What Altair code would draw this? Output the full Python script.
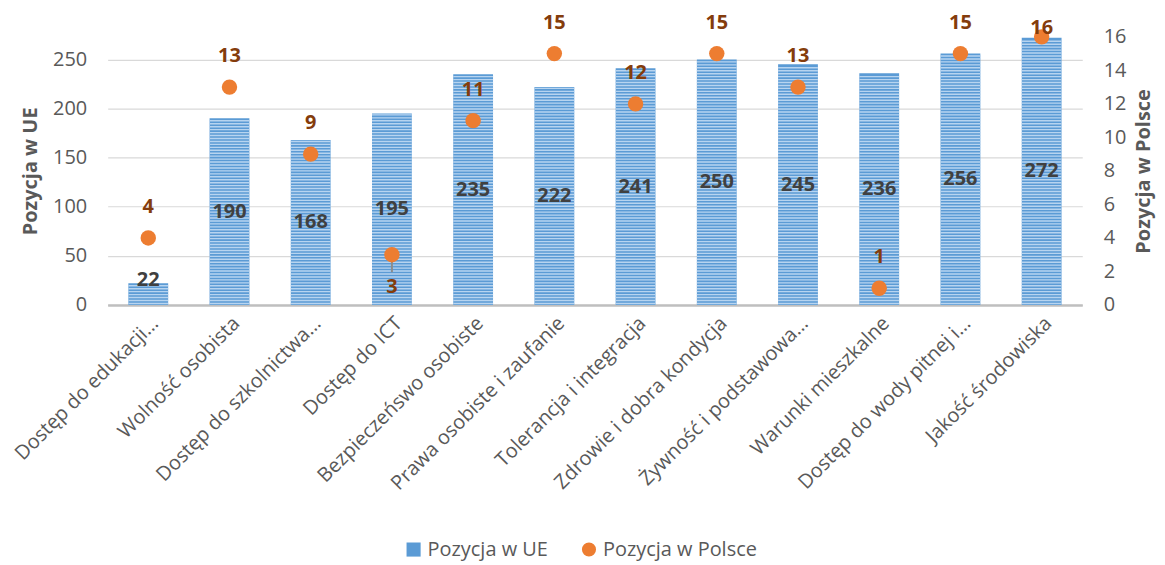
import altair as alt
import pandas as pd
import numpy as np

categories = [
    "Dostęp do edukacji…", "Wolność osobista", "Dostęp do szkolnictwa…",
    "Dostęp do ICT", "Bezpieczeńswo osobiste", "Prawa osobiste i zaufanie",
    "Tolerancja i integracja", "Zdrowie i dobra kondycja", "Żywność i podstawowa…",
    "Warunki mieszkalne", "Dostęp do wody pitnej i…", "Jakość środowiska",
]
pos_ue = [22, 190, 168, 195, 235, 222, 241, 250, 245, 236, 256, 272]
pos_pl = [4, 13, 9, 3, 11, 15, 12, 15, 13, 1, 15, 16]

S_UE = "Pozycja w UE"
S_PL = "Pozycja w Polsce"

df = pd.DataFrame({"cat": categories, "ue": pos_ue, "pl": pos_pl,
                   "s_ue": S_UE, "s_pl": S_PL})

# horizontal stripe texture inside the bars
rows = []
for c, v in zip(categories, pos_ue):
    for lvl in np.arange(1.5, v - 0.5, 3.0):
        rows.append({"cat": c, "lvl": float(lvl)})
stripes = pd.DataFrame(rows)

FONT = "Open Sans"
GREY = "#595959"

xenc = alt.X("cat:N", sort=categories, title=None,
             scale=alt.Scale(paddingInner=0.51, paddingOuter=0.255),
             axis=alt.Axis(labelAngle=315, labelFontSize=20, labelColor=GREY,
                           labelFont=FONT, ticks=False, domainColor="#BFBFBF",
                           domainWidth=2.5, labelPadding=8, labelLimit=320))

yscale_l = alt.Scale(domain=[0, 273], nice=False)
yaxis_l = alt.Axis(values=[0, 50, 100, 150, 200, 250], title=S_UE,
                   titleFontSize=20, titleFont=FONT, titleColor=GREY,
                   titleFontWeight="bold", titlePadding=12,
                   labelFontSize=20, labelColor=GREY, labelFont=FONT,
                   labelPadding=21, ticks=False, domain=False,
                   gridColor="#D9D9D9", gridWidth=1.2)

yscale_r = alt.Scale(domain=[0, 16], nice=False)
yaxis_r = alt.Axis(values=list(range(0, 17, 2)), title=S_PL, orient="right",
                   titleFontSize=20, titleFont=FONT, titleColor=GREY,
                   titleFontWeight="bold", titleAngle=270, titleBaseline="top",
                   titlePadding=8,
                   labelFontSize=20, labelColor=GREY, labelFont=FONT,
                   labelPadding=21, ticks=False, domain=False, grid=False)

legend = alt.Legend(title=None, orient="none", direction="horizontal",
                    legendX=297, legendY=504,
                    labelFontSize=20, labelFont=FONT, labelColor=GREY,
                    symbolSize=200, columnPadding=30, symbolOpacity=1)
color = alt.Color("series:N",
                  scale=alt.Scale(domain=[S_UE, S_PL], range=["#5B9BD5", "#ED7D31"]),
                  legend=legend)
shape = alt.Shape("series:N",
                  scale=alt.Scale(domain=[S_UE, S_PL], range=["square", "circle"]),
                  legend=legend)

base = alt.Chart(df)

bars = base.mark_bar().transform_calculate(series="datum.s_ue").encode(
    x=xenc,
    y=alt.Y("ue:Q", scale=yscale_l, axis=yaxis_l),
    color=color,
)

stripe_layer = alt.Chart(stripes).mark_tick(color="#B7D4F0", thickness=1.4, size=40,
                                            opacity=1).encode(
    x=alt.X("cat:N", sort=categories),
    y=alt.Y("lvl:Q", scale=yscale_l, axis=yaxis_l),
)

bar_labels = base.transform_calculate(
    ly="max(datum.ue / 2, 25)"
).mark_text(font=FONT, fontSize=20, fontWeight="bold", color="#404040",
            baseline="middle").encode(
    x=alt.X("cat:N", sort=categories),
    y=alt.Y("ly:Q", scale=yscale_l, axis=yaxis_l),
    text="ue:Q",
)

left = alt.layer(bars, stripe_layer, bar_labels)

leader = base.transform_filter("datum.pl == 3").transform_calculate(
    y2v="datum.pl - 1.05"
).mark_rule(color="#8C8C8C", strokeWidth=2).encode(
    x=alt.X("cat:N", sort=categories),
    y=alt.Y("pl:Q", scale=yscale_r, axis=yaxis_r),
    y2="y2v:Q",
)

points = base.transform_calculate(series="datum.s_pl").mark_point(
    filled=True, size=240, opacity=1).encode(
    x=alt.X("cat:N", sort=categories),
    y=alt.Y("pl:Q", scale=yscale_r, axis=yaxis_r),
    color=color,
    shape=shape,
)

pt_labels = base.transform_calculate(
    ly="datum.pl == 3 ? datum.pl - 1.95 : (datum.pl >= 16 ? datum.pl + 0.5 : datum.pl + 1.85)"
).mark_text(font=FONT, fontSize=20, fontWeight="bold", color="#843C0C",
            baseline="middle").encode(
    x=alt.X("cat:N", sort=categories),
    y=alt.Y("ly:Q", scale=yscale_r, axis=yaxis_r),
    text="pl:Q",
)

right = alt.layer(leader, points, pt_labels)

chart = alt.layer(left, right).resolve_scale(y="independent").properties(
    width=978, height=269,
    padding={"left": 3, "top": 3, "right": 3, "bottom": 0},
).configure(font=FONT).configure_view(stroke=None)

chart.save("out.html", embed_options={"renderer": "svg", "actions": False})
